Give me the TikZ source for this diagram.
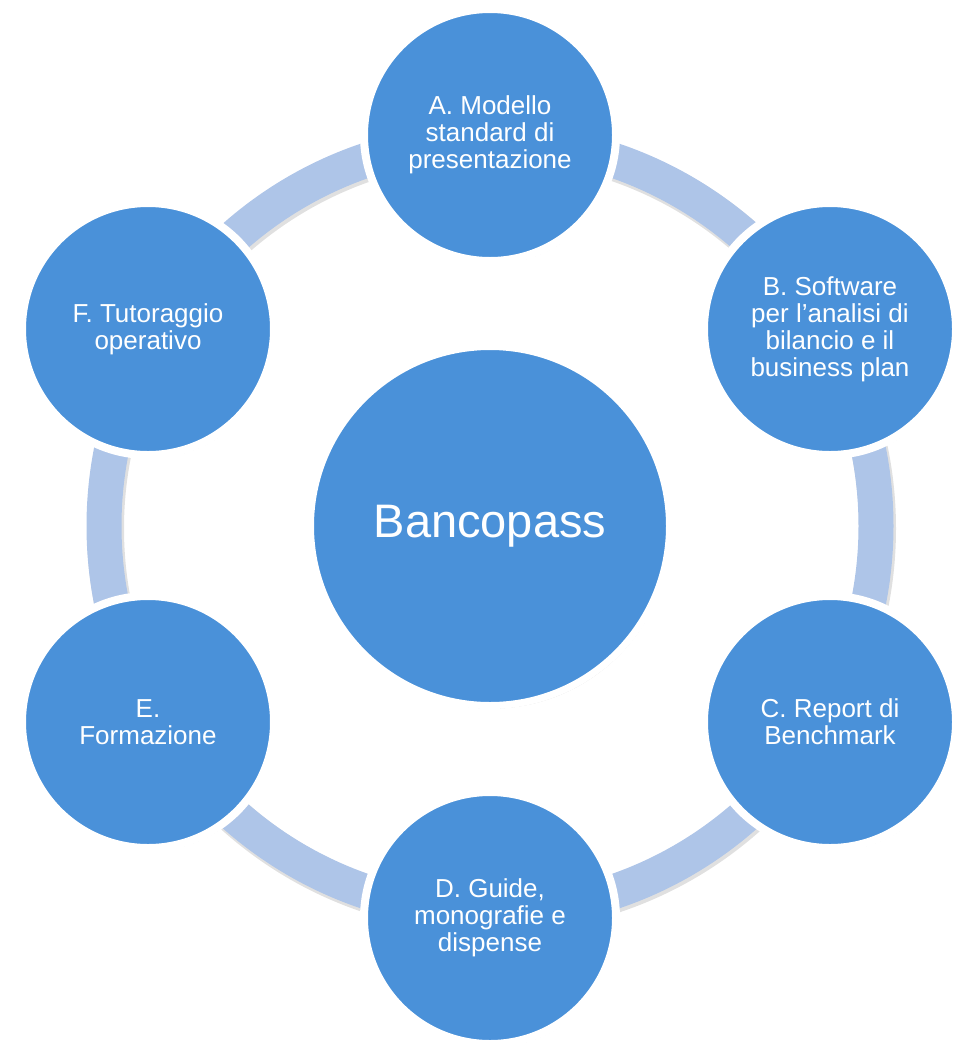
\documentclass[tikz,border=0pt]{standalone}
\usepackage{fontspec}
\setmainfont{Liberation Sans}
\usetikzlibrary{shadows}
\definecolor{nodeblue}{RGB}{74,145,217}
\definecolor{ringblue}{RGB}{174,197,232}
\begin{document}
\begin{tikzpicture}[x=1pt,y=-1pt,
  outer/.style={circle, fill=nodeblue, draw=white, line width=8pt,
    minimum size=252pt, inner sep=0pt, text=white, align=center,
    font=\fontsize{26}{27}\selectfont,
    drop shadow={shadow xshift=1.5pt, shadow yshift=-3pt, opacity=0.22, fill=black}},
  hub/.style={circle, fill=nodeblue, draw=white, line width=7pt,
    minimum size=359pt, inner sep=0pt, text=white, align=center,
    font=\fontsize{47}{50}\selectfont,
    drop shadow={shadow xshift=1.5pt, shadow yshift=-3pt, opacity=0.22, fill=black}},
  ring/.style={draw=ringblue, line width=35pt}
]
\useasboundingbox (0,0) rectangle (961,1047);
\coordinate (O) at (490,526);
\draw[black, opacity=0.12, line width=37pt] (491.5,528.5) circle (386);
\draw[ring] (O) circle (386);
\node[hub] (hub) at (O) {Bancopass};
\node[outer] (A) at (490,135) {A. Modello\\standard di\\presentazione};
\node[outer] (B) at (830,329) {B. Software\\per l’analisi di\\bilancio e il\\business plan};
\node[outer] (C) at (830,722) {C. Report di\\Benchmark};
\node[outer] (D) at (490,918) {D. Guide,\\monografie e\\dispense};
\node[outer] (E) at (148,722) {E.\\Formazione};
\node[outer] (F) at (148,329) {F. Tutoraggio\\operativo};
\end{tikzpicture}
\end{document}
